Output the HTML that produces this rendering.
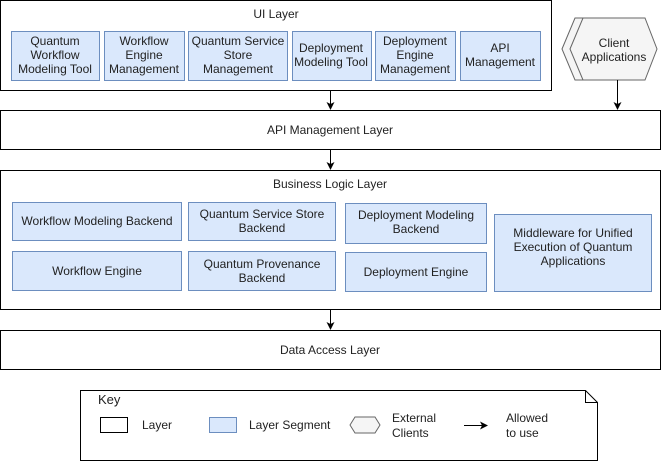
<!DOCTYPE html>
<html><head><meta charset="utf-8"><style>
html,body{margin:0;padding:0;background:#fff;}
svg{display:block;}
text{font-family:"Liberation Sans",Arial,Helvetica,sans-serif;font-size:12px;}
</style></head><body>
<svg width="662" height="461" viewBox="0 0 662 461" xmlns="http://www.w3.org/2000/svg" font-family="Liberation Sans, Arial, sans-serif">
<g fill="#fff" stroke="#000" stroke-width="1">
<rect x="0.5" y="0.5" width="551" height="90"/>
<rect x="0.5" y="110.5" width="660" height="39"/>
<rect x="0.5" y="170.5" width="660" height="139"/>
<rect x="0.5" y="330.5" width="660" height="39"/>
</g>
<g fill="#dae8fc" stroke="#6c8ebf">
<rect x="11.5" y="31.5" width="88" height="49"/>
<rect x="104.5" y="31.5" width="80" height="49"/>
<rect x="188.5" y="31.5" width="99" height="49"/>
<rect x="292.5" y="31.5" width="79" height="49"/>
<rect x="375.5" y="31.5" width="80" height="49"/>
<rect x="460.5" y="31.5" width="80" height="49"/>
<rect x="12.5" y="202.5" width="169" height="38"/>
<rect x="188.5" y="202.5" width="147" height="38"/>
<rect x="345.5" y="203.5" width="141" height="40"/>
<rect x="494.5" y="214.5" width="157" height="77"/>
<rect x="12.5" y="251.5" width="169" height="39"/>
<rect x="188.5" y="251.5" width="147" height="39"/>
<rect x="345.5" y="252.5" width="141" height="39"/>
</g>
<g fill="#f5f5f5" stroke="#666">
<polygon points="562,49 575,18 637,18 649,49 637,80 575,80"/>
<polygon points="570,49 583,18 645,18 657,49 645,80 583,80"/>
</g>
<path d="M80.5,390.5 H585.5 L597.5,402.5 V460.5 H80.5 Z" fill="#fff" stroke="#000"/>
<path d="M585.5,390.5 V402.5 H597.5" fill="none" stroke="#000"/>
<g stroke="#000">
<line x1="330.5" y1="91" x2="330.5" y2="104"/>
<line x1="617.5" y1="80" x2="617.5" y2="104"/>
<line x1="330.5" y1="150" x2="330.5" y2="164"/>
<line x1="330.5" y1="310" x2="330.5" y2="324"/>
<line x1="464" y1="425.5" x2="482" y2="425.5"/>
</g>
<g fill="#000">
<path d="M326.5,102 L330.5,110 L334.5,102 L330.5,104 Z"/>
<path d="M613.5,102 L617.5,110 L621.5,102 L617.5,104 Z"/>
<path d="M326.5,162 L330.5,170 L334.5,162 L330.5,164 Z"/>
<path d="M326.5,322 L330.5,330 L334.5,322 L330.5,324 Z"/>
<path d="M480,421.5 L488,425.5 L480,429.5 L482,425.5 Z"/>
</g>
<g fill="#222" text-anchor="middle">
<text x="276" y="18">UI Layer</text>
<text x="55" y="45">Quantum</text><text x="55" y="59">Workflow</text><text x="55" y="73">Modeling Tool</text>
<text x="144" y="45">Workflow</text><text x="144" y="59">Engine</text><text x="144" y="73">Management</text>
<text x="238" y="45">Quantum Service</text><text x="238" y="59">Store</text><text x="238" y="73">Management</text>
<text x="331" y="52">Deployment</text><text x="331" y="66">Modeling Tool</text>
<text x="415" y="45">Deployment</text><text x="415" y="59">Engine</text><text x="415" y="73">Management</text>
<text x="500" y="52">API</text><text x="500" y="66">Management</text>
<text x="614" y="47">Client</text><text x="614" y="61">Applications</text>
<text x="330" y="134">API Management Layer</text>
<text x="330" y="188">Business Logic Layer</text>
<text x="97" y="225">Workflow Modeling Backend</text>
<text x="262" y="218">Quantum Service Store</text><text x="262" y="232">Backend</text>
<text x="416" y="219">Deployment Modeling</text><text x="416" y="233">Backend</text>
<text x="573" y="237">Middleware for Unified</text><text x="573" y="251">Execution of Quantum</text><text x="573" y="265">Applications</text>
<text x="97" y="275">Workflow Engine</text>
<text x="262" y="268">Quantum Provenance</text><text x="262" y="282">Backend</text>
<text x="416" y="276">Deployment Engine</text>
<text x="330" y="354">Data Access Layer</text>
</g>
<rect x="100.5" y="417.5" width="27" height="15" fill="#fff" stroke="#000"/>
<rect x="209.5" y="417.5" width="27" height="15" fill="#dae8fc" stroke="#6c8ebf"/>
<polygon points="350,425 355,417 375,417 380,425 375,433 355,433" fill="#f5f5f5" stroke="#666"/>
<g fill="#222">
<text x="98" y="404" style="font-size:13px">Key</text>
<text x="142" y="429">Layer</text>
<text x="249" y="429">Layer Segment</text>
<text x="392" y="422">External</text><text x="392" y="437">Clients</text>
<text x="506" y="422">Allowed</text><text x="506" y="437">to use</text>
</g>
</svg>
</body></html>
